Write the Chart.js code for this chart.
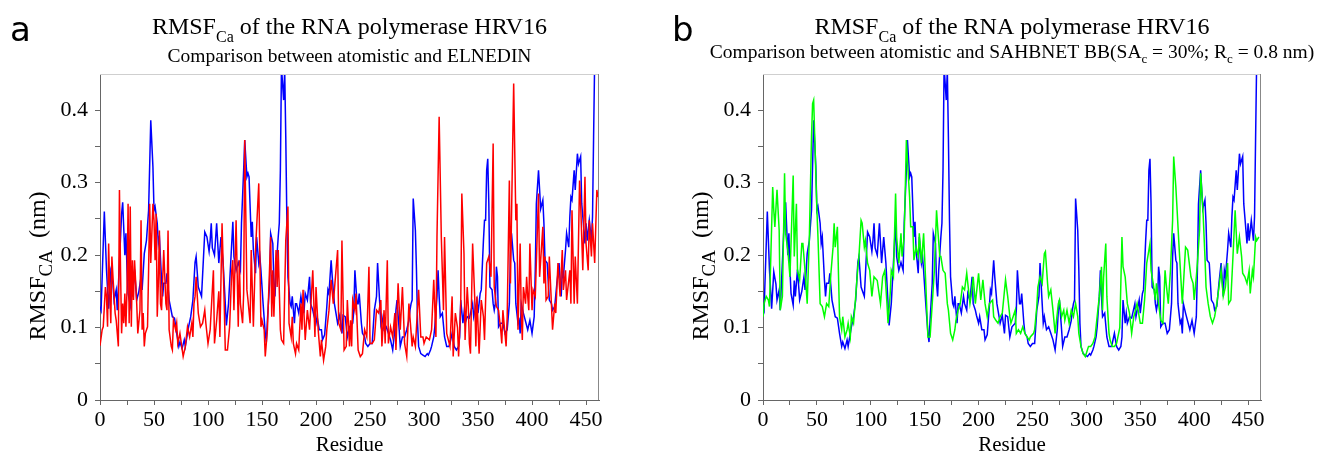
<!DOCTYPE html>
<html>
<head>
<meta charset="utf-8">
<script src="https://cdn.jsdelivr.net/npm/chart.js@4.4.1/dist/chart.umd.min.js"></script>
<style>
body { margin: 0; background: #fff; width: 1319px; height: 455px; overflow: hidden; position: relative; }
.panel { position: absolute; top: 0; height: 455px; }
#pa { left: 0; width: 640px; }
#pb { left: 660px; width: 659px; }
</style>
</head>
<body>
<div class="panel" id="pa"><canvas id="chartA"></canvas></div>
<div class="panel" id="pb"><canvas id="chartB"></canvas></div>
<script>
// RMSF of C-alpha per residue (nm) as [residue, rmsf]
var atomistic = [[0,.129],[1,.124],[4,.26],[6,.18],[8,.126],[10,.177],[12,.16],[13,.138],[15,.152],[16,.124],[20,.257],[21,.273],[23,.2],[24,.23],[25,.18],[26,.147],[28,.131],[29,.165],[30,.143],[32,.18],[34,.138],[36,.15],[38,.17],[39,.152],[41,.202],[43,.22],[45,.262],[47,.386],[49,.322],[50,.262],[51,.267],[53,.244],[54,.216],[55,.225],[57,.166],[58,.143],[59,.161],[61,.161],[62,.175],[64,.138],[67,.115],[69,.113],[71,.092],[73,.074],[74,.08],[76,.071],[78,.083],[79,.074],[82,.101],[84,.115],[86,.138],[88,.19],[89,.198],[91,.156],[94,.143],[97,.232],[99,.225],[101,.205],[102,.22],[103,.244],[104,.21],[106,.2],[108,.244],[110,.189],[112,.225],[114,.189],[116,.133],[117,.103],[119,.133],[121,.189],[123,.246],[124,.198],[126,.179],[128,.19],[130,.179],[131,.244],[133,.317],[134,.359],[136,.308],[137,.313],[138,.308],[140,.225],[141,.246],[142,.207],[144,.175],[145,.225],[147,.189],[148,.198],[149,.179],[151,.133],[153,.092],[154,.08],[155,.11],[157,.161],[158,.23],[160,.216],[161,.161],[162,.143],[163,.179],[165,.225],[166,.244],[167,.317],[168,.46],[170,.414],[171,.455],[172,.363],[173,.248],[174,.17],[176,.133],[177,.129],[178,.143],[180,.106],[181,.133],[182,.133],[184,.12],[186,.143],[187,.133],[189,.124],[190,.147],[192,.138],[194,.17],[195,.133],[197,.124],[198,.117],[200,.106],[201,.115],[203,.097],[205,.097],[206,.083],[208,.09],[210,.129],[211,.152],[212,.147],[214,.193],[215,.17],[217,.133],[220,.106],[222,.117],[224,.092],[225,.117],[227,.115],[229,.087],[231,.101],[234,.106],[235,.124],[236,.179],[238,.133],[239,.133],[240,.147],[242,.106],[243,.092],[245,.087],[246,.078],[248,.074],[250,.078],[252,.078],[254,.124],[256,.143],[257,.189],[259,.133],[260,.106],[261,.115],[263,.097],[265,.101],[267,.092],[269,.083],[271,.069],[273,.097],[274,.124],[275,.138],[277,.097],[278,.074],[280,.087],[282,.087],[284,.097],[286,.11],[287,.124],[288,.133],[289,.138],[290,.278],[292,.234],[293,.179],[294,.106],[295,.074],[297,.064],[299,.062],[301,.06],[303,.064],[304,.062],[306,.069],[307,.074],[309,.087],[310,.101],[312,.143],[313,.179],[314,.143],[315,.115],[317,.12],[319,.087],[321,.074],[323,.074],[324,.078],[326,.092],[328,.074],[330,.069],[332,.074],[333,.087],[334,.138],[336,.106],[337,.12],[338,.106],[340,.115],[342,.113],[345,.133],[346,.115],[349,.138],[350,.12],[352,.147],[353,.152],[355,.22],[356,.248],[357,.248],[358,.317],[359,.333],[360,.271],[361,.156],[363,.152],[364,.133],[365,.124],[366,.133],[367,.184],[368,.17],[369,.101],[371,.106],[373,.106],[375,.092],[377,.097],[379,.133],[380,.198],[381,.23],[383,.193],[384,.189],[385,.133],[387,.106],[388,.11],[389,.092],[390,.133],[392,.12],[396,.097],[398,.11],[400,.092],[402,.115],[403,.179],[404,.271],[406,.317],[408,.264],[410,.276],[411,.244],[412,.193],[414,.189],[416,.138],[418,.133],[419,.124],[421,.129],[423,.161],[425,.189],[427,.143],[428,.179],[429,.17],[431,.207],[432,.23],[434,.211],[435,.253],[436,.28],[437,.276],[439,.317],[440,.29],[442,.34],[443,.326],[445,.336],[446,.271],[447,.253],[449,.216],[450,.244],[451,.22],[453,.248],[455,.22],[456,.253],[457,.363],[458,.47],[460,.55]];

var elnedin = [[0,.075],[2,.097],[3,.101],[5,.156],[6,.143],[7,.101],[8,.216],[9,.152],[10,.106],[11,.198],[12,.17],[14,.12],[15,.11],[17,.074],[18,.29],[19,.179],[20,.092],[21,.133],[22,.106],[23,.147],[24,.101],[25,.152],[26,.271],[27,.106],[28,.267],[29,.101],[30,.193],[31,.138],[32,.193],[34,.133],[35,.092],[37,.124],[38,.248],[39,.097],[40,.12],[41,.074],[42,.092],[44,.101],[45,.179],[46,.271],[47,.189],[49,.271],[50,.248],[51,.193],[52,.257],[53,.115],[54,.161],[55,.234],[56,.133],[57,.124],[59,.207],[61,.133],[62,.124],[63,.234],[64,.097],[66,.074],[67,.069],[68,.11],[70,.097],[71,.106],[72,.078],[74,.092],[77,.06],[79,.074],[81,.101],[83,.087],[85,.106],[86,.087],[87,.133],[88,.143],[89,.17],[91,.12],[93,.101],[95,.106],[97,.124],[98,.106],[100,.078],[102,.097],[105,.179],[106,.078],[108,.11],[110,.15],[111,.087],[113,.244],[115,.133],[116,.069],[118,.069],[120,.101],[122,.179],[123,.193],[124,.124],[126,.248],[128,.101],[129,.193],[130,.133],[132,.106],[133,.147],[134,.359],[136,.152],[137,.138],[139,.106],[140,.207],[142,.101],[144,.207],[147,.299],[149,.101],[150,.11],[152,.097],[153,.06],[155,.097],[158,.225],[159,.115],[160,.179],[161,.115],[163,.207],[164,.156],[165,.207],[167,.097],[168,.083],[170,.078],[172,.22],[174,.267],[175,.106],[177,.087],[178,.115],[179,.078],[181,.064],[182,.078],[184,.069],[186,.133],[187,.097],[188,.152],[189,.115],[190,.083],[192,.124],[194,.097],[197,.179],[199,.087],[200,.156],[202,.097],[204,.06],[205,.083],[207,.055],[209,.074],[210,.097],[212,.124],[214,.166],[216,.133],[220,.207],[221,.106],[223,.097],[224,.22],[226,.069],[228,.074],[229,.138],[231,.074],[232,.11],[233,.074],[234,.138],[236,.124],[237,.147],[239,.069],[241,.06],[243,.064],[245,.097],[247,.087],[248,.133],[249,.184],[250,.078],[252,.078],[254,.083],[256,.124],[258,.12],[260,.138],[261,.074],[263,.124],[264,.078],[266,.193],[267,.078],[269,.101],[271,.087],[273,.12],[274,.069],[276,.161],[278,.097],[280,.156],[282,.078],[284,.06],[286,.133],[289,.074],[290,.087],[292,.074],[295,.152],[297,.087],[299,.087],[300,.078],[302,.087],[305,.083],[307,.097],[309,.166],[311,.087],[312,.225],[314,.391],[316,.225],[318,.124],[319,.225],[321,.092],[324,.074],[326,.143],[327,.06],[329,.12],[331,.1],[332,.06],[334,.133],[335,.285],[337,.202],[338,.083],[340,.156],[341,.129],[342,.078],[343,.064],[345,.216],[347,.138],[348,.074],[349,.143],[351,.064],[353,.138],[355,.115],[356,.083],[358,.189],[360,.198],[362,.17],[364,.354],[365,.156],[367,.129],[369,.124],[371,.097],[372,.078],[373,.124],[376,.074],[377,.115],[379,.303],[380,.161],[383,.437],[385,.248],[386,.271],[387,.097],[389,.216],[390,.12],[391,.083],[392,.156],[394,.133],[395,.17],[396,.143],[397,.124],[398,.216],[400,.124],[401,.152],[403,.143],[406,.285],[407,.17],[408,.193],[410,.239],[411,.161],[412,.198],[413,.138],[415,.143],[416,.198],[419,.097],[421,.133],[422,.12],[424,.189],[426,.143],[428,.207],[429,.152],[431,.179],[432,.138],[435,.179],[436,.133],[437,.262],[439,.133],[440,.198],[442,.133],[444,.303],[445,.271],[447,.179],[449,.308],[450,.216],[452,.179],[453,.248],[455,.198],[456,.244],[458,.189],[460,.29],[461,.28]];

var sahbnet = [[0,.115],[1,.133],[3,.143],[5,.138],[6,.129],[9,.294],[10,.262],[11,.239],[13,.29],[15,.234],[16,.124],[18,.143],[19,.225],[20,.313],[21,.23],[23,.207],[25,.17],[26,.216],[28,.31],[29,.198],[31,.271],[32,.179],[34,.166],[36,.216],[37,.216],[39,.179],[41,.133],[43,.225],[45,.363],[46,.409],[47,.414],[48,.363],[50,.262],[51,.225],[53,.133],[55,.129],[57,.115],[59,.133],[61,.129],[63,.175],[65,.211],[66,.244],[67,.211],[69,.239],[70,.175],[71,.115],[73,.097],[74,.115],[76,.087],[78,.097],[79,.106],[81,.087],[82,.115],[84,.106],[86,.143],[88,.184],[89,.198],[91,.248],[92,.244],[94,.211],[95,.22],[97,.189],[99,.179],[101,.143],[103,.17],[106,.165],[109,.133],[111,.17],[113,.179],[115,.133],[116,.106],[118,.147],[119,.179],[121,.17],[123,.285],[124,.225],[126,.189],[128,.23],[129,.198],[131,.225],[133,.359],[134,.331],[136,.28],[137,.239],[139,.239],[140,.193],[142,.211],[144,.198],[145,.23],[147,.189],[149,.23],[151,.161],[152,.124],[153,.087],[155,.087],[157,.133],[159,.179],[161,.262],[162,.239],[164,.198],[165,.198],[167,.179],[169,.175],[171,.133],[172,.124],[174,.092],[176,.083],[178,.097],[179,.11],[181,.124],[183,.133],[185,.156],[187,.152],[189,.175],[190,.161],[192,.133],[193,.143],[195,.17],[197,.133],[200,.175],[202,.138],[204,.166],[206,.133],[208,.115],[210,.133],[213,.138],[214,.115],[216,.11],[218,.106],[220,.115],[222,.12],[225,.166],[227,.143],[229,.115],[230,.106],[232,.115],[234,.124],[235,.092],[237,.097],[239,.092],[241,.101],[243,.092],[245,.087],[247,.083],[248,.087],[251,.092],[252,.097],[254,.129],[255,.156],[257,.17],[259,.161],[261,.202],[262,.205],[264,.161],[265,.143],[267,.152],[269,.124],[271,.092],[272,.106],[274,.133],[275,.138],[277,.115],[279,.124],[280,.11],[282,.124],[284,.106],[286,.124],[288,.115],[290,.133],[292,.115],[293,.092],[295,.074],[297,.064],[299,.06],[302,.074],[304,.074],[306,.078],[308,.087],[310,.115],[312,.143],[314,.184],[315,.124],[316,.17],[318,.216],[319,.143],[321,.092],[322,.083],[324,.074],[326,.074],[328,.078],[331,.1],[333,.225],[334,.184],[336,.17],[338,.133],[340,.12],[342,.092],[344,.115],[345,.12],[347,.133],[350,.106],[352,.106],[354,.138],[356,.189],[359,.216],[360,.179],[362,.161],[364,.138],[365,.161],[367,.133],[369,.11],[371,.106],[373,.179],[374,.161],[376,.133],[378,.179],[380,.248],[381,.336],[383,.294],[384,.267],[386,.211],[389,.133],[392,.211],[394,.207],[397,.17],[399,.161],[400,.138],[402,.17],[403,.189],[405,.234],[406,.313],[408,.267],[410,.198],[411,.156],[413,.133],[415,.115],[417,.106],[419,.115],[421,.133],[423,.156],[425,.179],[427,.143],[429,.156],[431,.189],[432,.133],[434,.138],[436,.198],[438,.262],[440,.202],[442,.225],[444,.198],[445,.175],[447,.17],[449,.161],[451,.179],[452,.147],[454,.179],[455,.17],[457,.225],[458,.22],[460,.225]];

var residueMax = 462;
var rmsfMax = 0.45;
var residueTicks = [0, 25, 50, 75, 100, 125, 150, 175, 200, 225, 250, 275, 300, 325, 350, 375, 400, 425, 450];
var rmsfTicks = [0, 0.05, 0.1, 0.15, 0.2, 0.25, 0.3, 0.35, 0.4];

var serif = "'Liberation Serif', 'Times New Roman', serif";

function toPoints(pairs) {
    return pairs.map(function (p) { return {x: p[0], y: p[1]}; });
}

function runsWidth(ctx, runs) {
    var w = 0;
    runs.forEach(function (r) {
        ctx.font = r.size + 'px ' + serif;
        w += ctx.measureText(r.t).width;
    });
    return w;
}

function drawRuns(ctx, runs, x, y) {
    runs.forEach(function (r) {
        ctx.font = r.size + 'px ' + serif;
        ctx.fillText(r.t, x, y + (r.dy || 0));
        x += ctx.measureText(r.t).width;
    });
}

var titleRuns = [
    {t: 'RMSF', size: 24},
    {t: 'Ca', size: 16, dy: 8},
    {t: ' of the RNA polymerase HRV16', size: 24}
];
var yTitleRuns = [
    {t: 'RMSF', size: 24},
    {t: 'CA', size: 19, dy: 7},
    {t: '  (nm)', size: 24}
];

// titles, panel letter, axis titles and the top/right frame
var deco = {
    id: 'deco',
    afterDraw: function (chart, args, o) {
        var ctx = chart.ctx, a = chart.chartArea;
        ctx.save();
        ctx.lineWidth = 1;
        ctx.strokeStyle = '#cfcfcf';
        ctx.beginPath();
        ctx.moveTo(a.left, a.top + 0.5);
        ctx.lineTo(a.right, a.top + 0.5);
        ctx.stroke();
        ctx.strokeStyle = '#888';
        ctx.beginPath();
        ctx.moveTo(a.right - 0.5, a.top);
        ctx.lineTo(a.right - 0.5, a.bottom);
        ctx.stroke();

        ctx.fillStyle = '#000';
        ctx.textAlign = 'left';
        ctx.textBaseline = 'alphabetic';
        var cx = (a.left + a.right) / 2;
        drawRuns(ctx, titleRuns, cx - runsWidth(ctx, titleRuns) / 2, 34);
        drawRuns(ctx, o.subtitle, cx - runsWidth(ctx, o.subtitle) / 2, o.subY);

        var xt = [{t: 'Residue', size: 21}];
        drawRuns(ctx, xt, cx - runsWidth(ctx, xt) / 2, 451);

        ctx.font = "34px 'DejaVu Sans', sans-serif";
        ctx.fillText(o.letter, o.letterX, 41);

        ctx.translate(o.yTitleX, 266);
        ctx.rotate(-Math.PI / 2);
        drawRuns(ctx, yTitleRuns, -runsWidth(ctx, yTitleRuns) / 2, 0);
        ctx.restore();
    }
};

function makeOptions(axisWidth, padRight, letter, letterX, yTitleX, subtitle, subY) {
    return {
        responsive: true,
        maintainAspectRatio: false,
        animation: false,
        layout: {padding: {top: 74, right: padRight, left: 0, bottom: 0}},
        plugins: {
            legend: {display: false},
            tooltip: {enabled: false},
            deco: {letter: letter, letterX: letterX, yTitleX: yTitleX, subtitle: subtitle, subY: subY}
        },
        elements: {point: {radius: 0}, line: {borderWidth: 1.5, tension: 0}},
        scales: {
            x: {
                type: 'linear',
                min: 0,
                max: residueMax,
                afterFit: function (s) { s.height = 55; },
                afterBuildTicks: function (s) {
                    s.ticks = residueTicks.map(function (v) { return {value: v}; });
                },
                border: {display: true, color: '#666', width: 1},
                grid: {drawOnChartArea: false, drawTicks: true, tickLength: 5, color: '#666'},
                ticks: {
                    autoSkip: false,
                    maxRotation: 0,
                    padding: 2,
                    color: '#000',
                    font: {family: serif, size: 22},
                    callback: function (v) { return v % 50 === 0 ? String(v) : ''; }
                }
            },
            y: {
                min: 0,
                max: rmsfMax,
                afterFit: function (s) { s.width = axisWidth; },
                afterBuildTicks: function (s) {
                    s.ticks = rmsfTicks.map(function (v) { return {value: v}; });
                },
                border: {display: true, color: '#666', width: 1},
                grid: {drawOnChartArea: false, drawTicks: true, tickLength: 5, color: '#666'},
                ticks: {
                    autoSkip: false,
                    padding: 7,
                    color: '#000',
                    font: {family: serif, size: 22},
                    callback: function (v) {
                        var k = Math.round(v * 20);
                        return k % 2 === 0 ? String(k / 20) : '';
                    }
                }
            }
        }
    };
}

new Chart(document.getElementById('chartA'), {
    type: 'line',
    data: {
        datasets: [
            {label: 'atomistic', data: toPoints(atomistic), borderColor: '#0000ff', order: 2},
            {label: 'ELNEDIN', data: toPoints(elnedin), borderColor: '#ff0000', order: 1}
        ]
    },
    options: makeOptions(100, 41, 'a', 10, 45,
        [{t: 'Comparison between atomistic and ELNEDIN', size: 19.5}], 62),
    plugins: [deco]
});

new Chart(document.getElementById('chartB'), {
    type: 'line',
    data: {
        datasets: [
            {label: 'atomistic', data: toPoints(atomistic), borderColor: '#0000ff', order: 2},
            {label: 'SAHBNET BB', data: toPoints(sahbnet), borderColor: '#00ff00', order: 1}
        ]
    },
    options: makeOptions(103, 58, 'b', 12, 48,
        [{t: 'Comparison between atomistic and SAHBNET BB(SA', size: 19.5},
         {t: 'c', size: 13, dy: 5},
         {t: ' = 30%; R', size: 19.5},
         {t: 'c', size: 13, dy: 5},
         {t: ' = 0.8 nm)', size: 19.5}], 58),
    plugins: [deco]
});
</script>
</body>
</html>
